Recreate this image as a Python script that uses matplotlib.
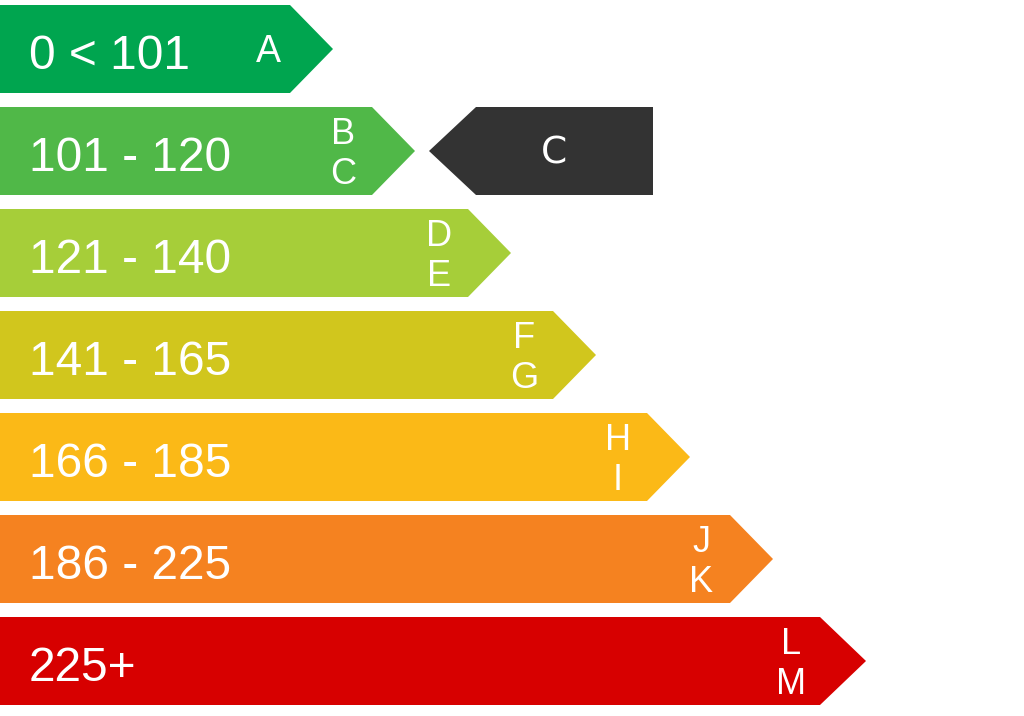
import matplotlib
matplotlib.use("Agg")
import matplotlib.pyplot as plt
from matplotlib.patches import Polygon

# energy classes, top to bottom
ranges = ["0 < 101", "101 - 120", "121 - 140", "141 - 165", "166 - 185", "186 - 225", "225+"]
classes = [("A",), ("B", "C"), ("D", "E"), ("F", "G"), ("H", "I"), ("J", "K"), ("L", "M")]
lengths = [290, 372, 468, 553, 647, 730, 820]
colors = ["#00a54f", "#50b848", "#a6ce39", "#d1c61d", "#fbb917", "#f58220", "#d70000"]

current_class = "C"
current_row = 1

fig = plt.figure(figsize=(10.24, 7.16), dpi=100)
ax = fig.add_axes([0, 0, 1, 1])
ax.set_xlim(0, 1024)
ax.set_ylim(716, 0)
ax.axis("off")

top0, step, h, tip = 5, 102, 88, 43

for i, (rng, cls, L, c) in enumerate(zip(ranges, classes, lengths, colors)):
    top = top0 + i * step
    mid = top + h / 2
    t = tip + (3 if i == len(ranges) - 1 else 0)
    pts = [(0, top), (L, top), (L + t, mid), (L, top + h), (0, top + h)]
    ax.add_patch(Polygon(pts, closed=True, facecolor=c, edgecolor="none"))
    ax.text(29, mid + 20, rng, color="white", fontsize=34.5, family="Liberation Sans",
            va="baseline", ha="left")
    if len(cls) == 1:
        ax.text(L - 22, mid + 3, cls[0], color="white", fontsize=27,
                family="Liberation Sans", va="center", ha="center")
    else:
        ax.text(L - 29, top + 28, cls[0], color="white", fontsize=26,
                family="Liberation Sans", va="center", ha="center")
        ax.text(L - 29, top + 68, cls[1], color="white", fontsize=26,
                family="Liberation Sans", va="center", ha="center")

# marker arrow for the current class
top = top0 + current_row * step
mid = top + h / 2
x0, x1 = 429, 653
pts = [(x0, mid), (x0 + 47, top), (x1, top), (x1, top + h), (x0 + 47, top + h)]
ax.add_patch(Polygon(pts, closed=True, facecolor="#333333", edgecolor="none"))
ax.text(554, mid + 2, current_class, color="white", fontsize=27, family="DejaVu Sans",
        va="center", ha="center")

fig.savefig("out.png", dpi=100)
